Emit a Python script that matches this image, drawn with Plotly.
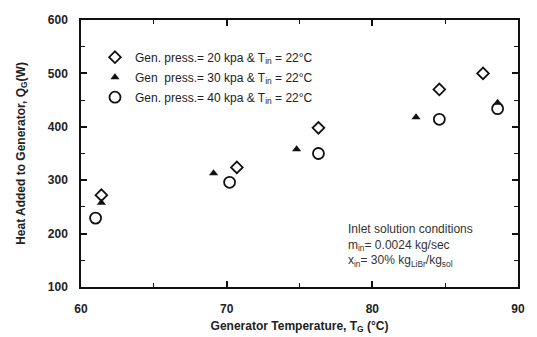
import plotly.graph_objects as go

# Data
t_20 = [61.4, 70.7, 76.3, 84.6, 87.6]
q_20 = [272, 324, 398, 470, 500]
t_30 = [61.4, 69.1, 74.8, 83.0, 88.6]
q_30 = [258, 313, 358, 418, 445]
t_40 = [61.0, 70.2, 76.3, 84.6, 88.6]
q_40 = [229, 296, 350, 414, 434]

names = [
    "Gen. press.= 20 kpa & T<sub>in</sub> = 22°C",
    "Gen  press.= 30 kpa & T<sub>in</sub> = 22°C",
    "Gen. press.= 40 kpa & T<sub>in</sub> = 22°C",
]

x_ticks = [60, 70, 80, 90]
y_ticks = [100, 200, 300, 400, 500, 600]

fig = go.Figure()
fig.add_trace(go.Scatter(x=t_20, y=q_20, mode="markers", name=names[0], legendgroup="a",
                         marker=dict(symbol="diamond-open", size=9, color="#111", line=dict(width=1.8))))
fig.add_trace(go.Scatter(x=t_30, y=q_30, mode="markers", name=names[1], legendgroup="b",
                         marker=dict(symbol="triangle-up", size=8, color="#111")))
fig.add_trace(go.Scatter(x=t_40, y=q_40, mode="markers", name=names[2], legendgroup="c",
                         marker=dict(symbol="circle-open", size=11, color="#111", line=dict(width=1.8))))

axis_common = dict(
    showline=True, linecolor="#111", linewidth=1.5, mirror="ticks",
    ticks="inside", ticklen=6, tickwidth=1.5, tickcolor="#111",
    showgrid=False, zeroline=False, automargin=False,
    tickfont=dict(family="Liberation Sans", size=12, color="#222", weight="bold"),
)

fig.update_xaxes(range=[60, 90], tickvals=x_ticks, **axis_common, ticklabelstandoff=10,
                 minor=dict(ticks="inside", ticklen=4, tickwidth=1.2, tickcolor="#111", dtick=5),
                 title=dict(text="Generator Temperature, T<sub>G</sub> (°C)", standoff=6,
                            font=dict(family="Liberation Sans", size=12, color="#222", weight="bold")))
fig.update_yaxes(range=[100, 600], tickvals=y_ticks, **axis_common, ticklabelstandoff=9,
                 minor=dict(ticks="inside", ticklen=4, tickwidth=1.2, tickcolor="#111", dtick=50),
                 title=dict(text="Heat Added to Generator, Q<sub>G</sub>(W)", standoff=20,
                            font=dict(family="Liberation Sans", size=12, color="#222", weight="bold")))

fig.add_annotation(
    x=0.607, y=0.155, xref="paper", yref="paper", xanchor="left", yanchor="middle",
    align="left", showarrow=False,
    text="Inlet solution conditions<br>m<sub>in</sub>= 0.0024 kg/sec<br>x<sub>in</sub>= 30% kg<sub>LiBr</sub>/kg<sub>sol</sub>",
    font=dict(family="Liberation Sans", size=12, color="#333"),
)

fig.update_layout(
    width=537, height=337,
    margin=dict(l=81, r=19, t=20, b=50),
    paper_bgcolor="white", plot_bgcolor="white",
    showlegend=True,
    legend=dict(x=0.032, y=0.915, xanchor="left", yanchor="top", bgcolor="rgba(0,0,0,0)",
                tracegroupgap=1, itemwidth=30,
                font=dict(family="Liberation Sans", size=12, color="#222")),
)

fig.write_html("out.html")
